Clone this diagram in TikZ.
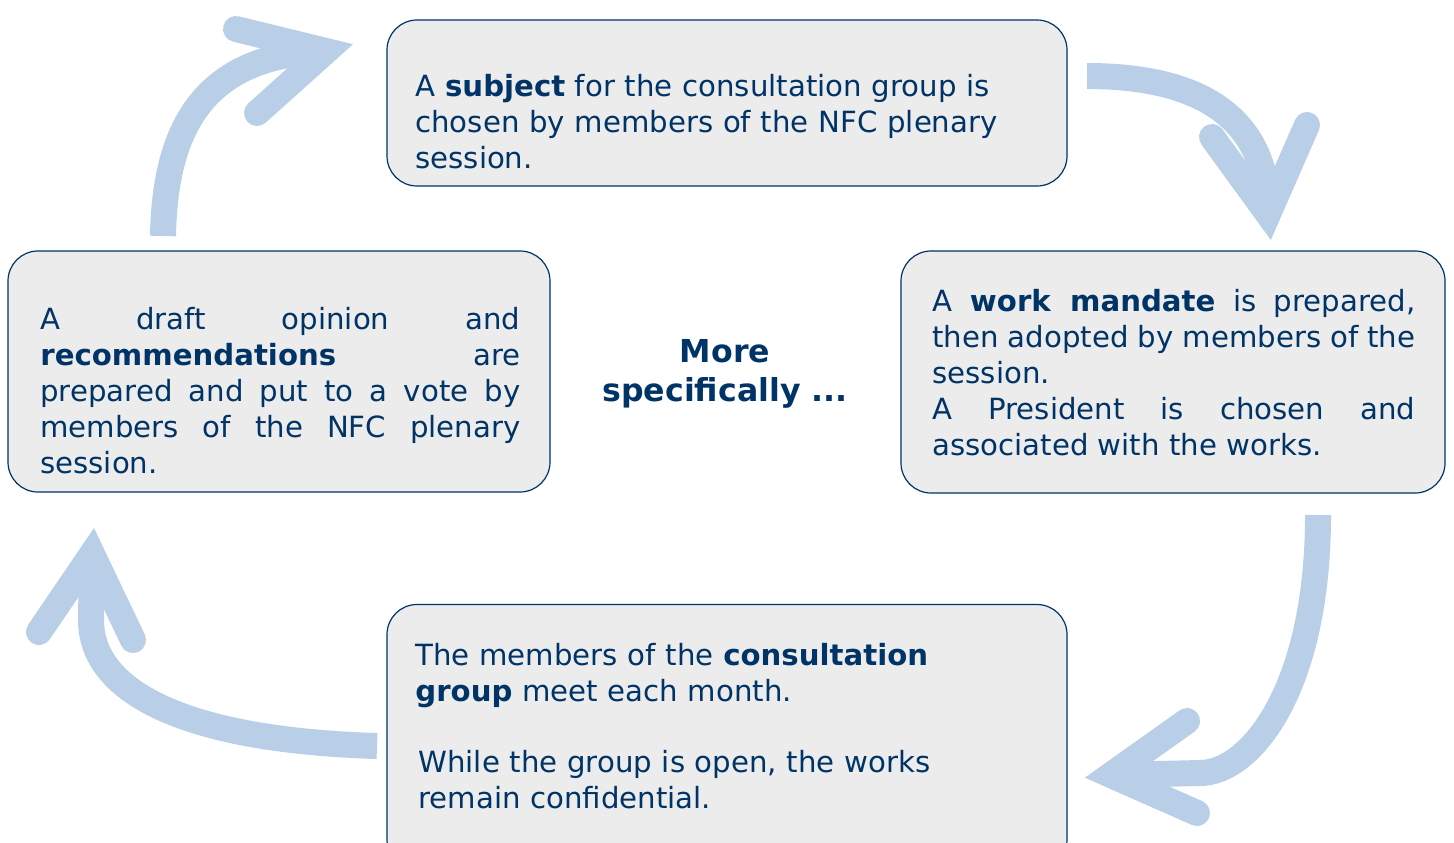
\documentclass[tikz,border=0pt]{standalone}
\usepackage{fontspec}
\setmainfont{DejaVu Sans}
\usetikzlibrary{positioning}
\definecolor{navy}{RGB}{0,51,102}
\definecolor{boxgray}{RGB}{236,236,236}
\definecolor{flowblue}{RGB}{185,207,231}
\tikzset{
  box/.style={draw=navy, line width=0.6pt, fill=boxgray, rounded corners=15pt, inner sep=0pt},
  txt/.style={text=navy, font=\fontsize{14.6}{18}\selectfont, inner sep=0pt, anchor=base west},
  shaft/.style={draw=flowblue, line width=13pt},
  head/.style={draw=flowblue, line width=13pt, line cap=round, line join=miter},
}
\begin{document}
\begin{tikzpicture}[x=0.5pt,y=-0.5pt]
        \useasboundingbox (0,0) rectangle (1454,842);
        % 绘制方框
        \node[box, minimum width=340pt, minimum height=83pt] (subjbox) at (727,103) {};
        \node[box, minimum width=272pt, minimum height=121pt] (mandbox) at (1173,372) {};
        \node[box, minimum width=340pt, minimum height=132.5pt] (meetbox) at (727,737) {};
        \node[box, minimum width=271pt, minimum height=120.5pt] (votebox) at (279,371.5) {};
        % 绘制文字
        \node[txt, text width=330pt, align=left] (subjtxt) at (415,96)
          {A \textbf{subject} for the consultation group is\\chosen by members of the NFC plenary\\session.};
        \node[txt, text width=241.5pt, align=justify] (mandtxt) at (932,311)
          {A \textbf{work mandate} is prepared,\linebreak then adopted by members of the\linebreak session.\\A President is chosen and\linebreak associated with the works.};
        \node[txt, text width=330pt, align=left] (meettxt) at (415,665)
          {The members of the \textbf{consultation}\\\textbf{group} meet each month.};
        \node[txt, text width=330pt, align=left] (opentxt) at (418,772)
          {While the group is open, the works\\remain confidential.};
        \node[txt, text width=240pt, align=justify] (votetxt) at (40,329)
          {A draft opinion and\linebreak\textbf{recommendations} are\linebreak prepared and put to a vote by\linebreak members of the NFC plenary\linebreak session.};
        \node[text=navy, font=\fontsize{15.8}{19.5}\selectfont\bfseries, align=center, inner sep=0pt] (moretxt) at (725,374)
          {More\\specifically ...};
        % 绘制箭头
        \coordinate (a1s) at (163,236); \coordinate (a1v) at (326,51);
        \coordinate (a1l) at (236,29);  \coordinate (a1r) at (257,113);
        \draw[shaft] (a1s) .. controls (165,120) and (210,55) .. (a1v);
        \draw[head] (a1l) -- (a1v) -- (a1r);
        \coordinate (a2s) at (1087,76);   \coordinate (a2v) at (1268,214);
        \coordinate (a2l) at (1212,137);  \coordinate (a2r) at (1307,125);
        \draw[shaft] (a2s) .. controls (1210,76) and (1268,125) .. (a2v);
        \draw[head] (a2l) -- (a2v) -- (a2r);
        \coordinate (a3s) at (1318,515);  \coordinate (a3v) at (1111,775);
        \coordinate (a3l) at (1187,721);  \coordinate (a3r) at (1197,813);
        \draw[shaft] (a3s) .. controls (1318,690) and (1250,773) .. (1200,773) -- (a3v);
        \draw[head] (a3l) -- (a3v) -- (a3r);
        \coordinate (a4s) at (377,746);  \coordinate (a4v) at (92,554);
        \coordinate (a4l) at (39,632);   \coordinate (a4r) at (133,640);
        \draw[shaft] (a4s) .. controls (180,740) and (91,690) .. (91,620) -- (a4v);
        \draw[head] (a4l) -- (a4v) -- (a4r);
      \end{tikzpicture}
\end{document}
